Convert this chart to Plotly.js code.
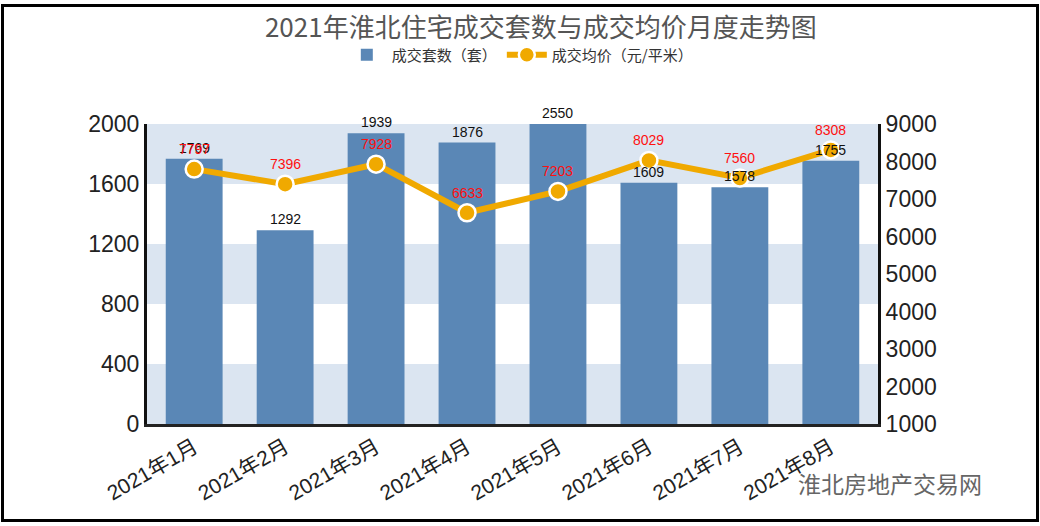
<!DOCTYPE html>
<html>
<head>
<meta charset="utf-8">
<script src="https://cdn.plot.ly/plotly-3.0.1.min.js"></script>
<style>
html,body{margin:0;padding:0;background:#fff;}
#wrap{position:relative;width:1040px;height:526px;}
#chart{width:1040px;height:526px;}
#frame{position:absolute;left:1px;top:4px;width:1032px;height:512px;border:3px solid #000;pointer-events:none;}
</style>
</head>
<body>
<div id="wrap"><div id="chart"></div><div id="frame"></div></div>
<script>
const months = ["2021年1月","2021年2月","2021年3月","2021年4月","2021年5月","2021年6月","2021年7月","2021年8月"];
const deals = [1769,1292,1939,1876,2550,1609,1578,1755];
const prices = [7797,7396,7928,6633,7203,8029,7560,8308];
const leftTicks = [0,400,800,1200,1600,2000];
const rightTicks = [1000,2000,3000,4000,5000,6000,7000,8000,9000];

const FONT = "Liberation Sans, Arial, Noto Sans CJK SC, sans-serif";
const leftMax = 2000;

const bandShapes = [];
for (let i = 0; i + 1 < leftTicks.length; i += 2) {
  bandShapes.push({type:'rect', xref:'paper', yref:'y', x0:0, x1:1,
    y0:leftTicks[i], y1:leftTicks[i+1], fillcolor:'#dbe5f1', line:{width:0}, layer:'below'});
}
bandShapes.push({type:'rect', xref:'paper', yref:'y', x0:0, x1:1,
  y0:leftTicks[leftTicks.length-1]-400, y1:leftTicks[leftTicks.length-1], fillcolor:'#dbe5f1', line:{width:0}, layer:'below'});

const annotations = [];
months.forEach((m, i) => {
  annotations.push({x:m, y:Math.min(deals[i], leftMax), xref:'x', yref:'y',
    text:String(deals[i]), showarrow:false, yanchor:'bottom', yshift:1,
    font:{family:FONT, size:14, color:'#111'}});
  annotations.push({x:m, y:prices[i], xref:'x', yref:'y2',
    text:String(prices[i]), showarrow:false, yanchor:'bottom', yshift:10,
    font:{family:FONT, size:14, color:'#ff1010'}});
});
annotations.push({xref:'paper', yref:'paper', x:1.016, y:-0.197, xanchor:'center', yanchor:'middle',
  text:'淮北房地产交易网', showarrow:false,
  font:{family:'Noto Sans CJK SC, sans-serif', size:23, color:'#666'}});

const traces = [
  {type:'bar', name:'成交套数（套）', x:months, y:deals, yaxis:'y',
   marker:{color:'#5a87b6', line:{width:0}}, hoverinfo:'skip', cliponaxis:true},
  {type:'scatter', mode:'lines+markers', name:'成交均价（元/平米）', x:months, y:prices, yaxis:'y2',
   line:{color:'#f0a900', width:6}, marker:{size:17, color:'#f0a900', line:{color:'#fff', width:2.5}},
   hoverinfo:'skip', cliponaxis:false}
];

const layout = {
  width:1040, height:526,
  margin:{l:147, r:162, t:124, b:102},
  paper_bgcolor:'#fff', plot_bgcolor:'#fff',
  showlegend:true,
  title:{text:'2021年淮北住宅成交套数与成交均价月度走势图', x:0.52, xanchor:'center', y:0.947, yanchor:'middle',
    font:{family:'Noto Sans CJK SC, sans-serif', size:26, color:'#555'}},
  legend:{orientation:'h', x:0.51, xanchor:'center', y:1.23, yanchor:'middle',
    font:{family:'Noto Sans CJK SC, sans-serif', size:15, color:'#333'}, bgcolor:'rgba(0,0,0,0)', itemwidth:40},
  bargap:0.375,
  xaxis:{type:'category', tickangle:-30, showgrid:false, zeroline:false,
    showline:true, linecolor:'#222', linewidth:3, ticks:'',
    tickfont:{family:FONT, size:21, color:'#222'}},
  yaxis:{range:[0,leftMax], tickvals:leftTicks, showgrid:false, zeroline:false,
    showline:true, linecolor:'#111', linewidth:3, ticks:'', ticklen:0,
    tickfont:{family:FONT, size:23, color:'#222'}},
  yaxis2:{overlaying:'y', side:'right', range:[1000,9000], tickvals:rightTicks, showgrid:false, zeroline:false,
    showline:true, linecolor:'#111', linewidth:3, ticks:'',
    tickfont:{family:FONT, size:23, color:'#222'}},
  shapes:bandShapes,
  annotations:annotations
};

Plotly.newPlot('chart', traces, layout, {staticPlot:true, displayModeBar:false});
</script>
</body>
</html>
